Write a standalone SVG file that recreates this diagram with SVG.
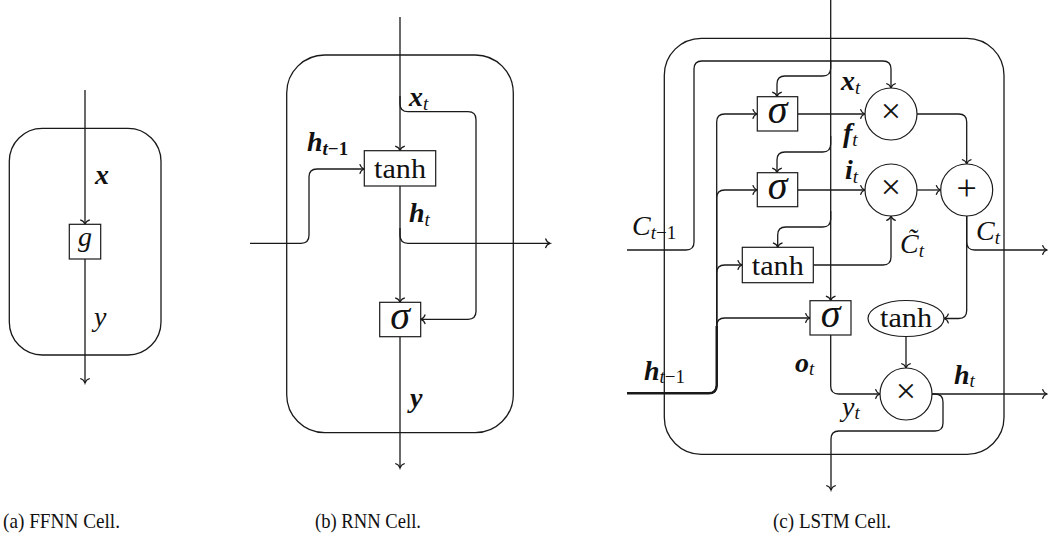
<svg xmlns="http://www.w3.org/2000/svg" width="1048" height="541" viewBox="0 0 1048 541">
<style>
.ln{fill:none;stroke:#1a1a1a;stroke-width:1.3}
.thick{fill:none;stroke:#1a1a1a;stroke-width:2.4}
.arr{marker-end:url(#to)}
.nd{fill:#fff;stroke:#1a1a1a;stroke-width:1.2}
.cell{fill:none;stroke:#1a1a1a;stroke-width:1.3}
text{font-family:"Liberation Serif","DejaVu Serif",serif;fill:#111}
.m{font-style:italic;font-size:28px}
.b{font-style:italic;font-weight:bold;font-size:28px}
.sub{font-style:italic;font-size:19px}
.bsub{font-style:italic;font-weight:bold;font-size:19px}
.rm{font-size:27px}
.op{font-size:36px}
.sig{font-style:italic;font-size:40px}
.cap{font-size:21px}
.c{text-anchor:middle}
</style>
<defs>
<marker id="to" markerUnits="userSpaceOnUse" markerWidth="14" markerHeight="14" viewBox="-7 -7 14 14" refX="0" refY="0" orient="auto" overflow="visible">
<path d="M-4.5,-4.8 Q-3.4,-1 0,0 Q-3.4,1 -4.5,4.8" fill="none" stroke="#1a1a1a" stroke-width="1.2"/>
</marker>
</defs>

<!-- cell outlines -->
<g id="cells">
<rect id="cell-a" class="cell" x="9.3" y="128.3" width="151.7" height="226.7" rx="33" ry="33"/>
<rect id="cell-b" class="cell" x="286.7" y="55" width="226.6" height="377.7" rx="38" ry="38"/>
<rect id="cell-c" class="cell" x="664.3" y="38.3" width="339.7" height="416" rx="37" ry="37"/>
</g>

<g id="connectors">
<!-- panel a -->
<path class="ln arr" d="M85,90 L85,224.3"/>
<path class="ln arr" d="M85,259 L85,383"/>
<!-- panel b -->
<path class="ln arr" d="M400,17 L400,150.7"/>
<path class="ln arr" d="M400,96 L400,103.7 Q400,111.7 408,111.7 L468,111.7 Q476,111.7 476,119.7 L476,311.3 Q476,319.3 468,319.3 L420.7,319.3"/>
<path class="ln arr" d="M250,243.3 L301,243.3 Q309,243.3 309,235.3 L309,177 Q309,169 317,169 L364.3,169"/>
<path class="ln arr" d="M400,186 L400,302.3"/>
<path class="ln arr" d="M400,228 L400,235.3 Q400,243.3 408,243.3 L550,243.3"/>
<path class="ln arr" d="M400,336.7 L400,468"/>
<!-- panel c -->
<path class="ln arr" d="M830.7,0 L830.7,300.7"/>
<path class="ln arr" d="M830.7,60 L830.7,68 Q830.7,76 822.7,76 L785,76 Q777,76 777,84 L777,96.7"/>
<path class="ln arr" d="M830.7,136 L830.7,144 Q830.7,152 822.7,152 L785,152 Q777,152 777,160 L777,172.7"/>
<path class="ln arr" d="M830.7,211 L830.7,219 Q830.7,227 822.7,227 L785.7,227 Q777.7,227 777.7,235 L777.7,247.3"/>
<path class="ln arr" d="M627,393.3 L708.7,393.3 Q716.7,393.3 716.7,385.3 L716.7,122 Q716.7,114 724.7,114 L757.3,114"/>
<path class="ln arr" d="M627,393.3 L708.7,393.3 Q716.7,393.3 716.7,385.3 L716.7,198 Q716.7,190 724.7,190 L757.3,190"/>
<path class="ln arr" d="M627,393.3 L708.7,393.3 Q716.7,393.3 716.7,385.3 L716.7,273 Q716.7,265 724.7,265 L742.3,265"/>
<path class="ln arr" d="M627,393.3 L708.7,393.3 Q716.7,393.3 716.7,385.3 L716.7,326 Q716.7,318 724.7,318 L810,318"/>
<path class="thick" d="M627,393.3 L708.7,393.3 Q716.7,393.3 716.7,385.3 L716.7,326"/>
<path class="ln arr" d="M627,250 L686,250 Q694,250 694,242 L694,69 Q694,61 702,61 L883,61 Q891,61 891,69 L891,88"/>
<path class="ln arr" d="M797.7,114 L865,114"/>
<path class="ln arr" d="M797.7,190 L865,190"/>
<path class="ln arr" d="M917,114 L958.7,114 Q966.7,114 966.7,122 L966.7,164"/>
<path class="ln arr" d="M917,190 L940.7,190"/>
<path class="ln arr" d="M813.3,265 L883,265 Q891,265 891,257 L891,216"/>
<path class="ln arr" d="M966.7,216 L966.7,242 Q966.7,250 974.7,250 L1047,250"/>
<path class="ln arr" d="M966.7,216 L966.7,310.5 Q966.7,318.5 958.7,318.5 L944,318.5"/>
<path class="ln arr" d="M906,336.5 L906,368"/>
<path class="ln arr" d="M830.7,335 L830.7,386 Q830.7,394 838.7,394 L880,394"/>
<path class="ln arr" d="M932,394 L1047,394"/>
<path class="ln arr" d="M932,394 L935,394 Q943,394 943,402 L943,423 Q943,431 935,431 L839,431 Q831,431 831,439 L831,490"/>
</g>

<!-- panel a nodes -->
<g id="a-g">
<rect class="nd" x="69.3" y="224.3" width="31.4" height="34.7"/>
<text class="m c" x="85" y="246">g</text>
</g>
<g id="a-labels">
<text class="b" x="95" y="184">x</text>
<text class="m" x="94" y="326">y</text>
</g>

<!-- panel b nodes -->
<g id="b-tanh">
<rect class="nd" x="364.3" y="150.7" width="71.4" height="35.3"/>
<text class="rm c" x="400" y="178" textLength="52" lengthAdjust="spacingAndGlyphs">tanh</text>
</g>
<g id="b-sigma">
<rect class="nd" x="379.7" y="302.3" width="41" height="34.4"/>
<text class="sig c" x="400" y="329">σ</text>
</g>
<g id="b-labels">
<text x="409" y="106"><tspan class="b">x</tspan><tspan class="sub" dy="4">t</tspan></text>
<text x="307" y="151"><tspan class="b">h</tspan><tspan class="bsub" dy="4">t</tspan><tspan style="font-weight:bold;font-size:19px">−1</tspan></text>
<text x="409" y="222"><tspan class="b">h</tspan><tspan class="sub" dy="4">t</tspan></text>
<text class="b" x="410" y="407">y</text>
</g>

<!-- panel c nodes -->
<g id="c-sigma-f">
<rect class="nd" x="757.3" y="96.7" width="40.4" height="34.3"/>
<text class="sig c" x="777.5" y="123">σ</text>
</g>
<g id="c-sigma-i">
<rect class="nd" x="757.3" y="172.7" width="40.4" height="34"/>
<text class="sig c" x="777.5" y="199">σ</text>
</g>
<g id="c-tanh-c">
<rect class="nd" x="742.3" y="247.3" width="71" height="35.4"/>
<text class="rm c" x="777.8" y="274.5" textLength="52" lengthAdjust="spacingAndGlyphs">tanh</text>
</g>
<g id="c-sigma-o">
<rect class="nd" x="810" y="300.7" width="41" height="34.3"/>
<text class="sig c" x="830.5" y="327">σ</text>
</g>
<g id="c-mul-f">
<circle class="nd" cx="891" cy="114" r="26"/>
<text class="op c" x="891" y="123">×</text>
</g>
<g id="c-mul-i">
<circle class="nd" cx="891" cy="190" r="26"/>
<text class="op c" x="891" y="199">×</text>
</g>
<g id="c-add">
<circle class="nd" cx="966.7" cy="190" r="26"/>
<text class="op c" x="966.7" y="200">+</text>
</g>
<g id="c-tanh-o">
<ellipse class="nd" cx="906" cy="318.5" rx="38" ry="18"/>
<text class="rm c" x="906" y="327" textLength="52" lengthAdjust="spacingAndGlyphs">tanh</text>
</g>
<g id="c-mul-o">
<circle class="nd" cx="906" cy="394" r="26"/>
<text class="op c" x="906" y="403">×</text>
</g>
<g id="c-labels">
<text x="632" y="235"><tspan class="m">C</tspan><tspan class="sub" dy="3.5">t</tspan><tspan style="font-size:19px">−1</tspan></text>
<text x="644" y="380"><tspan class="b">h</tspan><tspan class="sub" dy="2.5">t</tspan><tspan style="font-size:19px">−1</tspan></text>
<text x="841" y="90"><tspan class="b">x</tspan><tspan class="sub" dy="4">t</tspan></text>
<text x="843" y="141.5"><tspan class="b">f</tspan><tspan class="sub" dy="4">t</tspan></text>
<text x="845" y="179"><tspan class="b">i</tspan><tspan class="sub" dy="3.5">t</tspan></text>
<text x="900" y="252.5"><tspan class="m">C̃</tspan><tspan class="sub" dy="4">t</tspan></text>
<text x="976" y="240"><tspan class="m">C</tspan><tspan class="sub" dy="3.5">t</tspan></text>
<text x="795" y="371.5"><tspan class="b">o</tspan><tspan class="sub" dy="3.5">t</tspan></text>
<text x="954" y="383.5"><tspan class="b">h</tspan><tspan class="sub" dy="3.5">t</tspan></text>
<text x="842" y="416"><tspan class="m">y</tspan><tspan class="sub" dy="3">t</tspan></text>
</g>

<g id="captions">
<text class="cap" x="3" y="528" textLength="117" lengthAdjust="spacingAndGlyphs">(a) FFNN Cell.</text>
<text class="cap" x="315" y="528" textLength="106" lengthAdjust="spacingAndGlyphs">(b) RNN Cell.</text>
<text class="cap" x="773" y="528" textLength="118" lengthAdjust="spacingAndGlyphs">(c) LSTM Cell.</text>
</g>
</svg>
